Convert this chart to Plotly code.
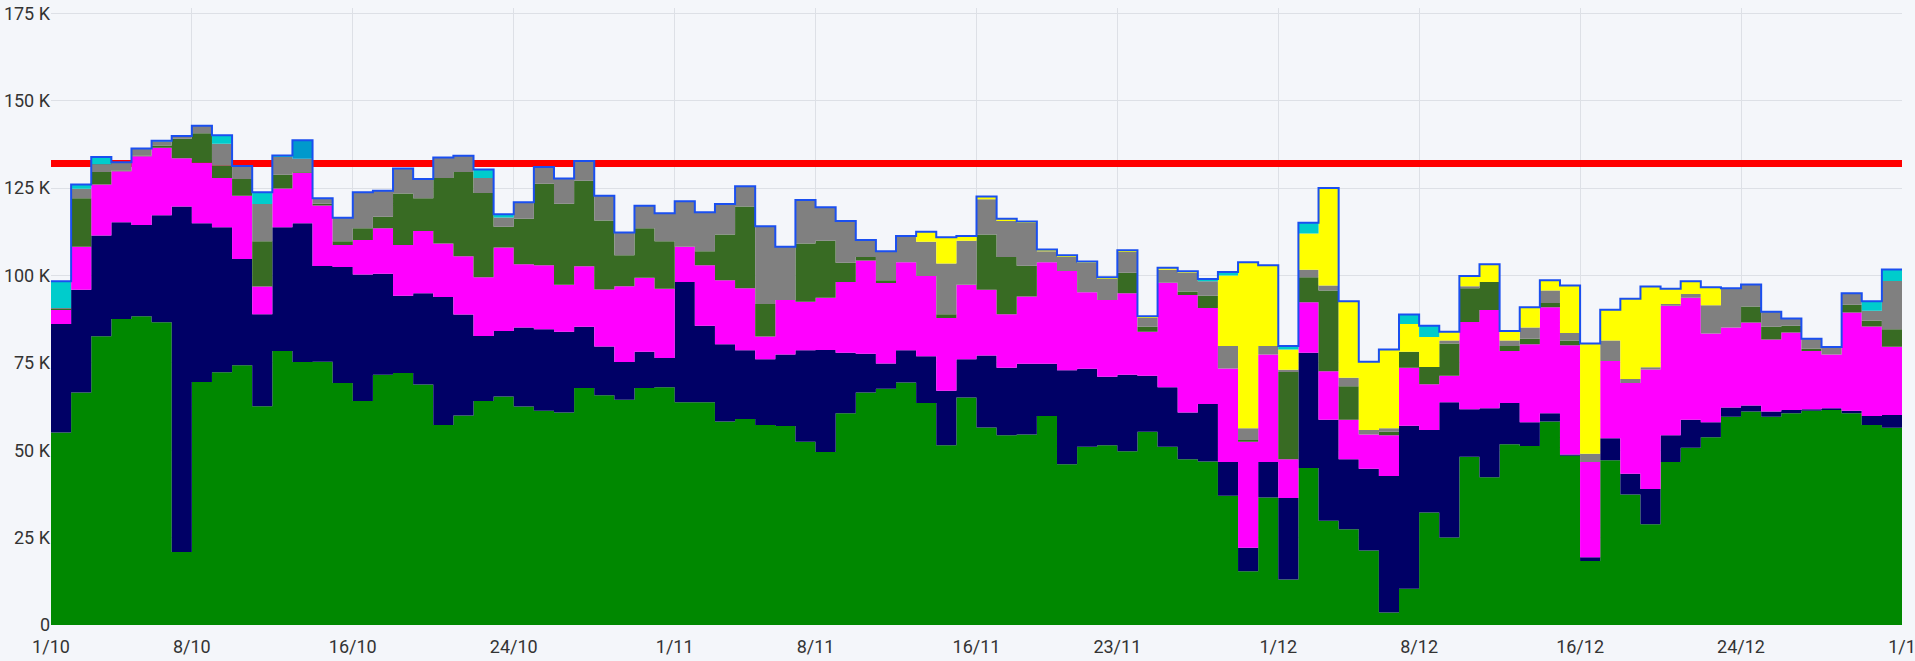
import pandas as pd
import plotly.graph_objects as go

# ---- data (values in thousands, one per day from 1 Oct to 31 Dec) ----
start_date = "2023-10-01"
n_days = 92

green = [55.1, 66.5, 82.6, 87.5, 88.3, 86.6, 20.9, 69.5, 72.3, 74.3,
         62.6, 78.4, 75.2, 75.3, 69.2, 64.1, 71.6, 72.1, 68.8, 57.2,
         59.9, 64.1, 65.4, 62.5, 61.3, 60.8, 67.8, 65.7, 64.4, 67.8,
         68.0, 63.7, 63.7, 58.2, 58.9, 57.2, 56.9, 52.4, 49.5, 60.6,
         66.5, 67.6, 69.4, 63.5, 51.4, 65.1, 56.5, 54.3, 54.5, 59.8,
         46.0, 51.0, 51.4, 49.7, 55.3, 51.0, 47.4, 46.8, 37.0, 15.4,
         36.5, 13.0, 44.9, 29.8, 27.4, 21.3, 3.6, 10.4, 32.2, 25.0,
         48.1, 42.3, 51.7, 51.2, 58.2, 48.4, 18.3, 47.1, 37.3, 28.8,
         46.6, 50.7, 53.7, 59.6, 61.1, 59.6, 60.6, 61.3, 61.5, 60.6,
         57.2, 56.4]

navy = [31.0, 29.4, 28.8, 27.7, 26.1, 30.6, 98.8, 45.4, 41.5, 30.4,
        26.3, 35.4, 39.7, 27.4, 33.2, 36.2, 28.9, 22.1, 26.1, 36.6,
        28.9, 18.6, 18.7, 22.6, 23.3, 23.1, 17.5, 14.0, 10.8, 10.4,
        8.4, 34.4, 21.9, 22.1, 19.7, 18.8, 20.5, 26.2, 29.2, 17.3,
        11.1, 7.2, 9.2, 13.4, 15.6, 10.9, 20.6, 19.3, 20.2, 14.9,
        26.9, 22.3, 19.6, 21.9, 16.0, 17.0, 13.4, 16.4, 9.6, 6.7,
        10.1, 23.3, 33.0, 28.9, 20.0, 23.4, 39.0, 46.6, 23.6, 38.7,
        13.6, 19.7, 11.8, 6.8, 2.4, 0.4, 1.1, 6.3, 6.0, 10.1,
        7.7, 8.0, 4.3, 2.6, 1.7, 1.5, 0.9, 0.4, 0.5, 0.7,
        2.6, 3.7]

magenta = [4.0, 12.3, 14.6, 14.6, 19.7, 19.3, 13.8, 17.3, 14.1, 18.1,
           7.9, 11.1, 14.4, 17.3, 6.3, 9.8, 13.0, 14.5, 17.8, 15.3,
           16.7, 16.8, 23.9, 18.1, 18.3, 13.4, 17.3, 16.3, 21.7, 21.1,
           19.8, 10.1, 17.3, 18.3, 17.7, 6.5, 15.6, 13.9, 14.9, 20.2,
           26.7, 23.0, 25.2, 22.9, 20.8, 21.3, 18.8, 15.3, 19.3, 29.1,
           28.4, 21.9, 22.0, 23.3, 12.6, 29.9, 33.6, 27.5, 26.8, 30.3,
           30.8, 11.1, 14.4, 13.9, 11.3, 9.8, 11.7, 16.6, 13.1, 7.6,
           25.0, 28.1, 14.9, 22.3, 30.3, 31.2, 27.2, 22.1, 25.9, 34.2,
           37.0, 34.9, 25.4, 22.9, 23.7, 20.6, 22.2, 16.7, 15.4, 28.1,
           25.6, 19.5]

dark_green = [0.3, 13.9, 3.6, 0.2, 0.2, 0.7, 5.6, 8.5, 3.5, 4.8,
              13.0, 3.9, 0.2, 0.5, 1.1, 3.4, 3.3, 14.7, 9.4, 18.8,
              24.1, 24.1, 5.9, 13.0, 23.3, 23.2, 24.5, 19.7, 8.9, 14.2,
              13.6, 0.0, 4.0, 13.1, 23.4, 9.3, 0.0, 16.6, 16.3, 5.5,
              1.0, 0.8, 0.0, 0.0, 1.1, 0.0, 15.8, 16.4, 8.8, 0.0,
              0.0, 0.0, 0.0, 5.9, 1.4, 0.0, 1.0, 3.5, 0.0, 0.5,
              0.0, 25.0, 7.2, 23.1, 9.6, 0.0, 1.0, 4.6, 4.9, 9.2,
              9.6, 8.0, 1.4, 1.6, 1.2, 1.3, 0.0, 0.0, 0.0, 0.0,
              0.0, 0.0, 0.0, 0.0, 4.6, 3.6, 1.9, 0.6, 0.0, 2.2,
              1.6, 5.0]

gray = [0.3, 2.7, 2.1, 2.2, 2.0, 1.1, 0.8, 2.1, 6.3, 3.7,
        10.6, 5.1, 3.9, 1.6, 6.7, 10.3, 7.4, 7.2, 5.3, 5.8,
        4.6, 4.3, 2.7, 4.7, 4.8, 7.2, 5.6, 7.1, 6.5, 6.4,
        8.0, 13.0, 11.2, 8.7, 5.8, 22.3, 15.2, 12.5, 9.6, 12.0,
        4.8, 8.3, 7.5, 9.8, 14.5, 12.6, 10.1, 10.3, 12.2, 3.1,
        4.0, 8.4, 6.0, 5.9, 2.5, 3.7, 5.4, 4.1, 6.4, 3.4,
        2.4, 0.6, 2.1, 1.4, 2.4, 1.3, 1.0, 0.0, 0.0, 0.9,
        0.6, 0.0, 1.6, 3.2, 3.6, 2.2, 2.4, 5.9, 1.2, 0.6,
        0.5, 1.1, 8.1, 11.2, 6.3, 4.3, 2.1, 2.9, 2.1, 3.3,
        2.9, 13.8]

yellow = [0, 0, 0, 0, 0, 0, 0, 0, 0, 0,
          0, 0, 0, 0, 0, 0, 0, 0, 0, 0,
          0, 0, 0, 0, 0, 0, 0, 0, 0, 0,
          0, 0, 0, 0, 0, 0, 0, 0, 0, 0,
          0, 0, 0, 2.9, 7.5, 1.4, 0.8, 0.6, 0.4, 0.5,
          0.5, 0.4, 0.5, 0.5, 0.5, 0.6, 0.4, 0, 20.2, 47.5,
          23.1, 5.8, 10.4, 27.9, 21.9, 19.5, 22.5, 7.9, 8.6, 2.5,
          2.9, 5.1, 2.7, 5.8, 2.9, 13.6, 31.5, 8.8, 22.9, 23.1,
          4.4, 3.6, 5.1, 0, 0, 0, 0, 0, 0, 0,
          0, 0]

cyan = [7.6, 1.2, 2.2, 0.2, 0, 0.2, 0, 0, 2.4, 0,
        3.4, 0.4, 0, 0, 0, 0, 0, 0, 0.2, 0,
        0, 2.4, 0.9, 0, 0, 0, 0, 0, 0, 0,
        0, 0, 0, 0, 0, 0, 0, 0, 0, 0,
        0, 0, 0, 0, 0, 0, 0, 0, 0, 0,
        0, 0, 0, 0, 0, 0, 0, 0.7, 1.0, 0,
        0, 1.0, 3.1, 0, 0, 0, 0, 2.7, 3.2, 0,
        0, 0, 0, 0, 0, 0, 0, 0, 0, 0,
        0, 0, 0, 0, 0, 0, 0, 0, 0, 0,
        2.7, 3.3]

steel_blue = [0, 0, 0, 0, 0, 0, 0, 0, 0, 0,
              0, 0, 5.3, 0, 0, 0, 0, 0, 0, 0,
              0, 0, 0, 0, 0, 0, 0, 0, 0, 0,
              0, 0, 0, 0, 0, 0, 0, 0, 0, 0,
              0, 0, 0, 0, 0, 0, 0, 0, 0, 0,
              0, 0, 0, 0, 0, 0, 0, 0, 0, 0,
              0, 0, 0, 0, 0, 0, 0, 0, 0, 0,
              0, 0, 0, 0, 0, 0, 0, 0, 0, 0,
              0, 0, 0, 0, 0, 0, 0, 0, 0, 0,
              0, 0]

threshold = 132.0  # thousands

x_tick_dates = ["2023-10-01", "2023-10-08", "2023-10-16", "2023-10-24",
                "2023-11-01", "2023-11-08", "2023-11-16", "2023-11-23",
                "2023-12-01", "2023-12-08", "2023-12-16", "2023-12-24",
                "2024-01-01"]
x_tick_labels = ["1/10", "8/10", "16/10", "24/10", "1/11", "8/11", "16/11",
                 "23/11", "1/12", "8/12", "16/12", "24/12", "1/1"]
y_tick_vals = [0, 25, 50, 75, 100, 125, 150, 175]
y_tick_labels = ["0", "25 K", "50 K", "75 K", "100 K", "125 K", "150 K", "175 K"]

# ---- build ----
dates = pd.date_range(start_date, periods=n_days + 1, freq="D")  # last point closes final step


def ext(vals):
    v = [x * 1000 for x in vals]
    return v + [v[-1]]


series = [
    ("green", green, "#008800"),
    ("navy", navy, "#000066"),
    ("magenta", magenta, "#ff00ff"),
    ("dark green", dark_green, "#386b23"),
    ("gray", gray, "#808080"),
    ("yellow", yellow, "#ffff00"),
    ("cyan", cyan, "#00cccc"),
    ("steel blue", steel_blue, "#0099cc"),
]

fig = go.Figure()

# threshold line (behind the stacks)
fig.add_trace(go.Scatter(
    x=[dates[0], dates[-1]], y=[threshold * 1000, threshold * 1000],
    mode="lines", line=dict(color="#ff0000", width=7),
    hoverinfo="skip", showlegend=False))

for name, vals, color in series:
    fig.add_trace(go.Scatter(
        x=dates, y=ext(vals), name=name, mode="lines",
        stackgroup="one", line=dict(width=0, shape="hv", color=color),
        fillcolor=color, showlegend=False))

total = [sum(t) for t in zip(green, navy, magenta, dark_green, gray, yellow, cyan, steel_blue)]
fig.add_trace(go.Scatter(
    x=dates, y=ext(total), mode="lines",
    line=dict(color="#1a4ff0", width=2, shape="hv"),
    hoverinfo="skip", showlegend=False))

bg = "#f4f6fa"
fig.update_layout(
    width=1915, height=661,
    margin=dict(l=51, r=13, t=8, b=36),
    paper_bgcolor=bg, plot_bgcolor=bg,
    font=dict(family="Roboto, sans-serif", size=18, color="#333333"),
    showlegend=False,
    hovermode=False,
)
fig.update_xaxes(
    range=[dates[0], dates[-1]],
    tickvals=pd.to_datetime(x_tick_dates), ticktext=x_tick_labels,
    showgrid=True, gridcolor="#dde0e6", gridwidth=1,
    zeroline=False, showline=False, ticks="", tickfont=dict(size=18),
    automargin=False, ticklabelstandoff=9, ticklabeloverflow="allow",
)
fig.update_yaxes(
    range=[0, 176500],
    tickvals=[v * 1000 for v in y_tick_vals], ticktext=y_tick_labels,
    showgrid=True, gridcolor="#dde0e6", gridwidth=1,
    zeroline=False, showline=False, ticks="", tickfont=dict(size=18),
    automargin=False, ticklabelstandoff=0, ticklabeloverflow="allow",
)

fig.write_html(
    "out.html",
    config={"displayModeBar": False},
    post_script="document.body.style.margin='0';document.body.style.background='#f4f6fa';",
)
